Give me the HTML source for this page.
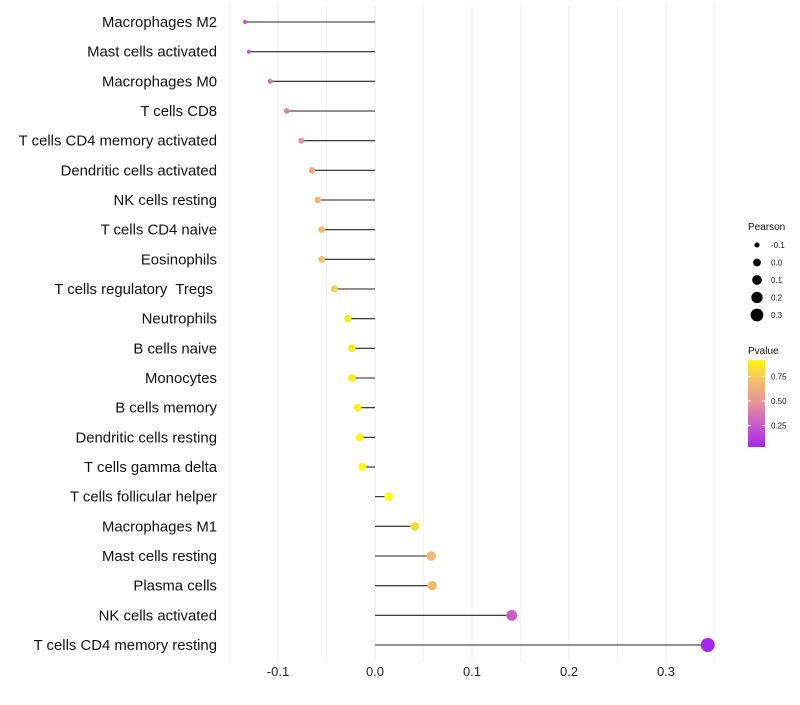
<!DOCTYPE html>
<html><head><meta charset="utf-8"><style>
body{margin:0;background:#fff;font-family:"Liberation Sans",sans-serif}
text{white-space:pre}
</style></head><body>
<svg id="chart" width="800" height="700" xmlns="http://www.w3.org/2000/svg"></svg>
<script>
const categories=["Macrophages M2","Mast cells activated","Macrophages M0","T cells CD8","T cells CD4 memory activated","Dendritic cells activated","NK cells resting","T cells CD4 naive","Eosinophils","T cells regulatory  Tregs ","Neutrophils","B cells naive","Monocytes","B cells memory","Dendritic cells resting","T cells gamma delta","T cells follicular helper","Macrophages M1","Mast cells resting","Plasma cells","NK cells activated","T cells CD4 memory resting"];
const pearson=[-0.134,-0.130,-0.108,-0.091,-0.076,-0.065,-0.059,-0.055,-0.055,-0.042,-0.028,-0.024,-0.024,-0.018,-0.016,-0.013,0.014,0.041,0.058,0.059,0.141,0.343];
const pvalue=[0.2,0.22,0.38,0.42,0.5,0.6,0.65,0.68,0.7,0.76,0.86,0.87,0.87,0.9,0.92,0.93,0.95,0.8,0.68,0.68,0.27,0.03];
const xTicks=[-0.1,0,0.1,0.2,0.3];
const xTickLabels=["-0.1","0.0","0.1","0.2","0.3"];
const sizeLegend=[-0.1,0,0.1,0.2,0.3];
const sizeLegendLabels=["-0.1","0.0","0.1","0.2","0.3"];
const colorLegend=[0.25,0.5,0.75];
const colorLegendLabels=["0.25","0.50","0.75"];

const NS="http://www.w3.org/2000/svg";
const svg=document.getElementById('chart');
const X0=375,XS=970,Y0=22,YS=29.667;
const xs=v=>X0+v*XS, ys=i=>Y0+i*YS;
const rs=v=>Math.sqrt(Math.max(1,16.6+94.3*v));
const stops=[[0,[160,32,240]],[0.25,[200,90,200]],[0.5,[232,150,150]],[0.7,[242,190,110]],[0.95,[255,255,0]],[1,[255,255,0]]];
function col(p){for(let k=1;k<stops.length;k++){if(p<=stops[k][0]){const a=stops[k-1],b=stops[k],t=(p-a[0])/(b[0]-a[0]);return 'rgb('+a[1].map((c,j)=>Math.round(c+(b[1][j]-c)*t)).join(',')+')';}}return 'rgb(255,255,0)';}
function mk(tag,attrs,parent){const e=document.createElementNS(NS,tag);for(const k in attrs)e.setAttribute(k,attrs[k]);(parent||svg).appendChild(e);return e;}

for(let v=-0.15;v<=0.351;v+=0.05){
  const g=mk('line',{x1:xs(v),x2:xs(v),y1:5,y2:662,stroke:Math.abs(Math.round(v*20))%2===0?'#ebebeb':'#f3f3f3','stroke-width':1});
  
  
}
xTicks.forEach((v,i)=>{
  const t=mk('text',{x:xs(v),y:676,'text-anchor':'middle','font-size':13,fill:'#222'});
  t.textContent=xTickLabels[i];
  
  
});
categories.forEach((c,i)=>{
  const y=ys(i);
  const t=mk('text',{x:217,y:y+5,'text-anchor':'end','font-size':14.9,fill:'#111'});
  t.textContent=c;
  
  
  const l=mk('line',{x1:xs(0),x2:xs(pearson[i]),y1:y,y2:y,stroke:'#222','stroke-width':1.1});
  
  
  const p=mk('circle',{cx:xs(pearson[i]),cy:y,r:rs(pearson[i]),fill:col(pvalue[i])});
  
  
});
const lt=mk('text',{x:748,y:230,'font-size':10,fill:'#111'});lt.textContent='Pearson';


sizeLegend.forEach((v,i)=>{
  const y=245+i*17.5;
  const c=mk('circle',{cx:757,cy:y,r:rs(v)*0.95,fill:'#000'});
  
  
  const t=mk('text',{x:771,y:y+3,'font-size':8,fill:'#111'});t.textContent=sizeLegendLabels[i];
  
  
});
const ct=mk('text',{x:748,y:354,'font-size':10,fill:'#111'});ct.textContent='Pvalue';


const defs=mk('defs',{});
const gr=mk('linearGradient',{id:'pg',x1:0,y1:1,x2:0,y2:0},defs);
const PMIN=0.03,PMAX=0.92;
for(let k=0;k<=20;k++){const p=PMIN+(PMAX-PMIN)*k/20;mk('stop',{offset:k/20,'stop-color':col(p)},gr);}
const bar=mk('rect',{x:748,y:360,width:17,height:87,fill:'url(#pg)'});


const cy=p=>447-(p-PMIN)/(PMAX-PMIN)*87;
colorLegend.forEach((v,i)=>{
  mk('line',{x1:748,x2:751,y1:cy(v),y2:cy(v),stroke:'#fff'});
  mk('line',{x1:762,x2:765,y1:cy(v),y2:cy(v),stroke:'#fff'});
  const t=mk('text',{x:771,y:cy(v)+3,'font-size':8,fill:'#111'});t.textContent=colorLegendLabels[i];
  
  
});
</script>
</body></html>
